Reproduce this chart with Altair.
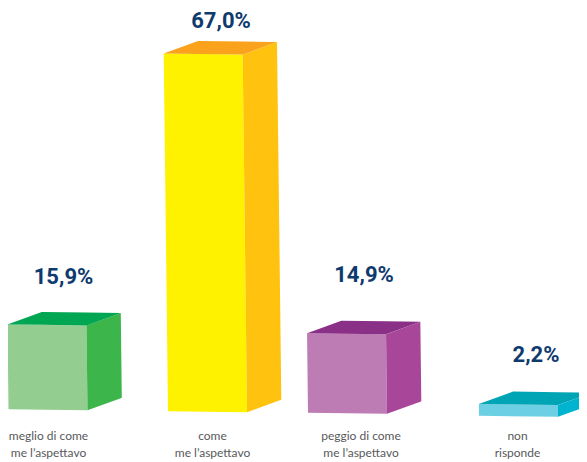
import altair as alt
import numpy as np
import pandas as pd

# Data
categories = ["meglio di come", "come", "peggio di come", "non"]
categories2 = ["me l’aspettavo", "me l’aspettavo", "me l’aspettavo", "risponde"]
values = [15.9, 67.0, 14.9, 2.2]
value_labels = ["15,9%", "67,0%", "14,9%", "2,2%"]

# Layout (page picture units)
W, H = 571, 454
PX_PER_UNIT = 5.34
ZERO_PX = 404.0
left_edge = [0.5, 160.0, 300.0, 471.0]
base_px = [401.3, 403.2, 404.8, 407.8]
label_center = [55.5, 213.0, 356.0, 528.0]
label_baseline = [276.0, 20.0, 274.0, 354.0]
cat_center = [40.5, 204.5, 353.0, 509.5]
FRONT_W, DEPTH_X, DEPTH_Y = 79.0, 34.3, -12.5
LEAN, SLOPE = 0.012, 0.0135

front_colors = ["#93CD8F", "#FFF200", "#BD7CB4", "#6DCFE3"]
side_colors = ["#3CB54A", "#FFC20E", "#A8479A", "#00B3CF"]
top_colors = ["#00A651", "#FAA21B", "#8A3087", "#00A5B5"]


def to_unit(py):
    return (ZERO_PX - py) / PX_PER_UNIT


def quad_rows(name, pts):
    """Exact convex quad as a vertical-orient area: upper and lower edge per x."""
    pts = np.array(pts)
    cx, cy = pts.mean(axis=0)
    order = np.argsort(np.arctan2(pts[:, 1] - cy, pts[:, 0] - cx))
    p = pts[order]
    xs = np.sort(p[:, 0])
    rows = []
    for x in xs:
        ys = []
        for i in range(4):
            a, b = p[i], p[(i + 1) % 4]
            lo, hi = min(a[0], b[0]), max(a[0], b[0])
            if lo - 1e-9 <= x <= hi + 1e-9 and hi > lo:
                ys.append(a[1] + (x - a[0]) * (b[1] - a[1]) / (b[0] - a[0]))
        rows.append({"face": name, "x": float(x),
                     "y": to_unit(min(ys)), "y2": to_unit(max(ys))})
    return rows


rows, domain, rng = [], [], []
for i, v in enumerate(values):
    h = v * PX_PER_UNIT
    bl = np.array([left_edge[i], base_px[i]])
    br = bl + [FRONT_W, FRONT_W * SLOPE]
    tl = bl + [-h * LEAN, -h]
    tr = tl + [FRONT_W, FRONT_W * SLOPE]
    d = np.array([DEPTH_X, DEPTH_Y])
    faces = [
        (f"front{i}", [tl, tr, br, bl], front_colors[i]),
        (f"side{i}", [tr, tr + d, br + d, br], side_colors[i]),
        (f"top{i}", [tl, tl + d, tr + d, tr], top_colors[i]),
    ]
    for name, pts, col in faces:
        rows += quad_rows(name, pts)
        domain.append(name)
        rng.append(col)
faces_df = pd.DataFrame(rows)

x_scale = alt.Scale(domain=[0, W], range=[0, W], nice=False, zero=False)
y_scale = alt.Scale(domain=[to_unit(H), to_unit(0)], range=[H, 0], nice=False, zero=False)

bars = alt.Chart(faces_df).mark_area(orient="vertical", clip=True, interpolate="linear").encode(
    x=alt.X("x:Q", scale=x_scale, axis=None),
    y=alt.Y("y:Q", scale=y_scale, axis=None),
    y2="y2:Q",
    color=alt.Color("face:N", scale=alt.Scale(domain=domain, range=rng), legend=None),
)

val_df = pd.DataFrame({"x": label_center, "y": [to_unit(p) for p in label_baseline], "t": value_labels})
val_text = alt.Chart(val_df).mark_text(
    font="Roboto", fontWeight="bold", fontSize=22,
    color="#0F3A6E", align="center", baseline="alphabetic",
).encode(
    x=alt.X("x:Q", scale=x_scale, axis=None),
    y=alt.Y("y:Q", scale=y_scale, axis=None),
    text="t:N",
)

cat_df = pd.DataFrame({
    "x": cat_center * 2,
    "y": [to_unit(432.0)] * 4 + [to_unit(449.0)] * 4,
    "t": categories + categories2,
})
cat_text = alt.Chart(cat_df).mark_text(
    font="Lato", fontSize=12,
    color="#58595B", align="center", baseline="alphabetic",
).encode(
    x=alt.X("x:Q", scale=x_scale, axis=None),
    y=alt.Y("y:Q", scale=y_scale, axis=None),
    text="t:N",
)

chart = (bars + val_text + cat_text).properties(
    width=W, height=H, padding=0, autosize=alt.AutoSizeParams(type="none"),
    background="white",
).configure_view(stroke=None)

chart.save("out.html", embed_options={"renderer": "svg", "actions": False})
